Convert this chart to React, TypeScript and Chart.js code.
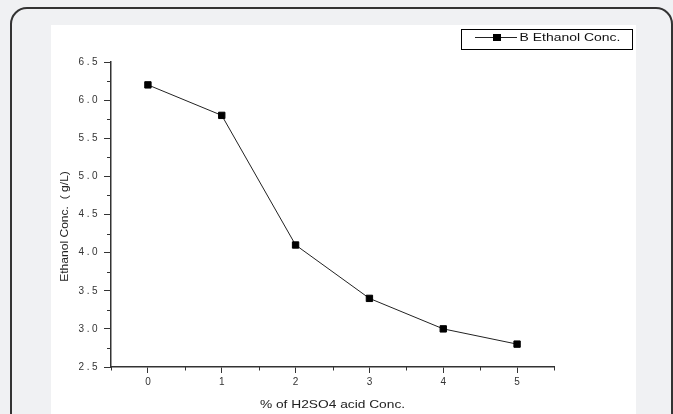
import React, { useEffect, useRef } from 'react';
import { Chart, registerables } from 'chart.js';

Chart.register(...registerables);

const acidConc = [0, 1, 2, 3, 4, 5];
const ethanolConc = [6.2, 5.8, 4.1, 3.4, 3.0, 2.8];
const xTickValues = [0, 1, 2, 3, 4, 5];
const xMinorTickValues = [-0.5, 0.5, 1.5, 2.5, 3.5, 4.5, 5.5];
const yTickValues = [2.5, 3.0, 3.5, 4.0, 4.5, 5.0, 5.5, 6.0, 6.5];
const yMinorTickValues = [2.75, 3.25, 3.75, 4.25, 4.75, 5.25, 5.75, 6.25];
const seriesLabel = 'B Ethanol Conc.';
const xTitle = '% of H2SO4 acid Conc.';
const yTitle = 'Ethanol Conc.  ( g/L)';

const FONT = '"Liberation Sans", Arial, sans-serif';

const decorPlugin = {
  id: 'decor',
  beforeDraw(chart: any) {
    chart.ctx.letterSpacing = '2.5px';
  },
  beforeDatasetsDraw(chart: any) {
    chart.ctx.letterSpacing = '0px';
  },
  afterDraw(chart: any) {
    const { ctx, chartArea, scales } = chart;
    const xs = scales.x;
    const ys = scales.y;
    ctx.save();
    ctx.letterSpacing = '0px';
    // minor ticks
    ctx.strokeStyle = '#333';
    ctx.lineWidth = 1;
    ctx.beginPath();
    xMinorTickValues.forEach((v) => {
      const px = Math.round(xs.getPixelForValue(v)) + 0.5;
      ctx.moveTo(px, chartArea.bottom);
      ctx.lineTo(px, chartArea.bottom + 3.5);
    });
    yMinorTickValues.forEach((v) => {
      const py = Math.round(ys.getPixelForValue(v)) + 0.5;
      ctx.moveTo(chartArea.left - 4, py);
      ctx.lineTo(chartArea.left, py);
    });
    ctx.stroke();

    // axis titles
    ctx.fillStyle = '#222';
    ctx.textAlign = 'center';
    ctx.textBaseline = 'middle';
    ctx.font = `11px ${FONT}`;
    ctx.save();
    ctx.translate((chartArea.left + chartArea.right) / 2, chartArea.bottom + 38);
    ctx.scale(1.25, 1);
    ctx.fillText(xTitle, 0, 0);
    ctx.restore();

    ctx.save();
    ctx.font = `10.5px ${FONT}`;
    ctx.translate(14, (chartArea.top + chartArea.bottom) / 2 + 12);
    ctx.rotate(-Math.PI / 2);
    ctx.scale(1.15, 1);
    ctx.fillText(yTitle, 0, 0);
    ctx.restore();

    // legend
    const ds = chart.data.datasets[0];
    ctx.strokeStyle = '#000';
    ctx.lineWidth = 1;
    ctx.strokeRect(410.5, 4.5, 171, 20);
    ctx.strokeStyle = '#222';
    ctx.beginPath();
    ctx.moveTo(424, 12.5);
    ctx.lineTo(466, 12.5);
    ctx.stroke();
    ctx.fillStyle = '#000';
    ctx.fillRect(442, 9, 8, 7);
    ctx.fillStyle = '#111';
    ctx.textAlign = 'left';
    ctx.font = `10.5px ${FONT}`;
    ctx.translate(468.5, 13);
    ctx.scale(1.33, 1);
    ctx.fillText(ds.label, 0, 0);
    ctx.restore();
  },
};

export default function App() {
  const ref = useRef<HTMLCanvasElement | null>(null);

  useEffect(() => {
    if (!ref.current) return;
    const chart = new Chart(ref.current, {
      type: 'line',
      data: {
        datasets: [
          {
            label: seriesLabel,
            data: acidConc.map((x, i) => ({ x, y: ethanolConc[i] })),
            borderColor: '#222',
            borderWidth: 1,
            pointStyle: 'rect',
            pointRadius: 4.5,
            pointBorderWidth: 1,
            pointBackgroundColor: '#000',
            pointBorderColor: '#000',
            tension: 0,
            clip: false as any,
          },
        ],
      },
      options: {
        animation: false,
        responsive: false,
        devicePixelRatio: 1,
        layout: { padding: { top: 37, right: 82, bottom: 0, left: 0 } },
        plugins: {
          legend: { display: false },
          tooltip: { enabled: false },
        },
        scales: {
          x: {
            type: 'linear',
            min: -0.5,
            max: 5.5,
            afterBuildTicks: (s: any) => {
              s.ticks = xTickValues.map((v) => ({ value: v }));
            },
            afterFit: (s: any) => {
              s.height = 47;
            },
            grid: { drawOnChartArea: false, drawTicks: true, tickLength: 6, color: '#333', lineWidth: 1 },
            border: { display: true, color: '#333', width: 1.5 },
            ticks: {
              font: { family: FONT, size: 10 },
              color: '#333',
              padding: 3,
              labelOffset: 1.25,
              maxRotation: 0,
              autoSkip: false,
              callback: (v: any) => String(v),
            },
          },
          y: {
            type: 'linear',
            min: 2.5,
            max: 6.5,
            afterBuildTicks: (s: any) => {
              s.ticks = yTickValues.map((v) => ({ value: v }));
            },
            afterFit: (s: any) => {
              s.width = 60;
            },
            grid: { drawOnChartArea: false, drawTicks: true, tickLength: 7, color: '#333', lineWidth: 1 },
            border: { display: true, color: '#333', width: 1.5 },
            ticks: {
              font: { family: FONT, size: 10 },
              color: '#333',
              padding: 4,
              autoSkip: false,
              callback: (v: any) => Number(v).toFixed(1),
            },
          },
        },
      },
      plugins: [decorPlugin],
    } as any);
    return () => chart.destroy();
  }, []);

  return (
    <div style={{ position: 'fixed', inset: 0, background: '#f0f1f3', overflow: 'hidden' }}>
      <div
        style={{
          position: 'absolute',
          left: 10,
          top: 7,
          width: 663,
          height: 480,
          border: '2px solid #333',
          borderRadius: 17,
          boxSizing: 'border-box',
        }}
      />
      <div style={{ position: 'absolute', left: 51, top: 25, width: 585, height: 389, background: '#fff' }}>
        <canvas ref={ref} width={585} height={389} style={{ display: 'block' }} />
      </div>
    </div>
  );
}
